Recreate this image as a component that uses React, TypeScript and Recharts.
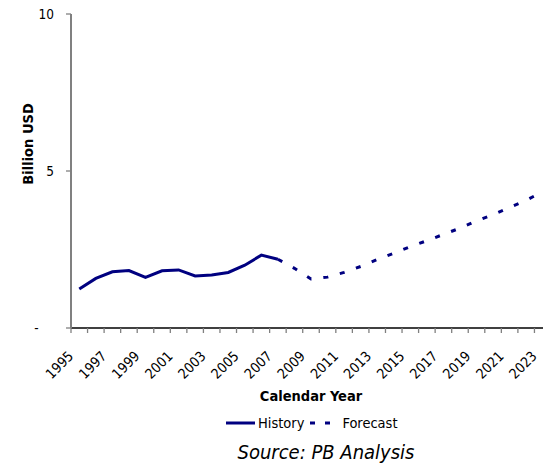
import React from 'react';
import { LineChart, Line, XAxis, YAxis, Label } from 'recharts';

const years = [
  '1995', '1996', '1997', '1998', '1999', '2000', '2001', '2002', '2003', '2004',
  '2005', '2006', '2007', '2008', '2009', '2010', '2011', '2012', '2013', '2014',
  '2015', '2016', '2017', '2018', '2019', '2020', '2021', '2022', '2023',
];

// Billion USD, actuals 1995-2007
const history = [1.24, 1.58, 1.79, 1.83, 1.61, 1.82, 1.85, 1.66, 1.69, 1.77, 2.0, 2.32, 2.19];

// Billion USD, forecast 2007-2023 (starts at the last actual)
const forecast = [2.19, 1.9, 1.56, 1.62, 1.77, 1.96, 2.18, 2.38, 2.59, 2.78, 2.98, 3.18, 3.41, 3.61, 3.84, 4.07, 4.34];

const yTicks = [0, 5, 10];

const seriesNames = { history: 'History', forecast: 'Forecast' };

const FONT = "Tahoma, 'DejaVu Sans Condensed', 'DejaVu Sans', sans-serif";
const NAVY = '#000080';

const data = years.map((year, i) => ({
  year,
  history: i < history.length ? history[i] : null,
  forecast: i >= history.length - 1 ? forecast[i - (history.length - 1)] : null,
}));

const XTick = (props: any) => {
  const { x, y, payload, index, width } = props;
  const band = (width || 480) / years.length;
  const tx = x - 5;
  const ty = y + 29;
  return (
    <g>
      <line x1={x - band / 2} y1={y} x2={x - band / 2} y2={y + 5} stroke="#808080" strokeWidth={1.3} />
      {index % 2 === 0 && (
        <text x={tx} y={ty} transform={`rotate(-45 ${tx} ${ty})`} textAnchor="end" fontSize={14} fontFamily={FONT} fill="#000">
          {payload.value}
        </text>
      )}
    </g>
  );
};

const App: React.FC = () => {
  return (
    <div style={{ position: 'absolute', left: 0, top: 0, width: 543, height: 468, overflow: 'hidden', background: '#fff', fontFamily: FONT }}>
      <LineChart width={551} height={468} data={data} margin={{ top: 14, right: 0, bottom: 0, left: 0 }}>
        <XAxis
          dataKey="year"
          scale="band"
          interval={0}
          tick={<XTick />}
          tickLine={false}
          tickSize={0}
          tickMargin={0}
          height={140}
          axisLine={{ stroke: '#000', strokeWidth: 1.3 }}
        >
          <Label
            content={() => (
              <text x={311} y={401} textAnchor="middle" fontSize={14.5} fontWeight="bold" fontFamily={FONT} fill="#000">
                Calendar Year
              </text>
            )}
          />
        </XAxis>
        <YAxis
          domain={[0, 10]}
          ticks={yTicks}
          width={71}
          tickSize={5}
          tickMargin={12}
          tickFormatter={(v: number) => (v === 0 ? '-\u00a0\u00a0\u00a0\u00a0' : String(v))}
          tick={{ fontSize: 13.5, fontFamily: FONT, fill: '#000' }}
          tickLine={{ stroke: '#808080', strokeWidth: 1.3 }}
          axisLine={{ stroke: '#808080', strokeWidth: 2 }}
        >
          <Label
            content={() => (
              <text x={28} y={144} transform="rotate(-90 28 144)" textAnchor="middle" dominantBaseline="central" fontSize={14.5} fontWeight="bold" fontFamily={FONT} fill="#000">
                Billion USD
              </text>
            )}
          />
        </YAxis>
        <Line dataKey="history" name={seriesNames.history} stroke={NAVY} strokeWidth={3} dot={false} isAnimationActive={false} connectNulls={false} />
        <Line dataKey="forecast" name={seriesNames.forecast} stroke={NAVY} strokeWidth={3} strokeDasharray="5 12" dot={false} isAnimationActive={false} connectNulls={false} />
      </LineChart>

      <div style={{ position: 'absolute', left: 226, top: 415, display: 'flex', alignItems: 'center', fontSize: 14.5, color: '#000', whiteSpace: 'nowrap' }}>
        <svg width={30} height={10}>
          <line x1={0} y1={5} x2={29} y2={5} stroke={NAVY} strokeWidth={3} />
        </svg>
        <span style={{ marginLeft: 2 }}>{seriesNames.history}</span>
        <svg width={30} height={10} style={{ marginLeft: 6 }}>
          <line x1={0} y1={5} x2={22} y2={5} stroke={NAVY} strokeWidth={3} strokeDasharray="5 10" />
        </svg>
        <span style={{ marginLeft: 2 }}>{seriesNames.forecast}</span>
      </div>

      <div style={{ position: 'absolute', left: 0, width: 652, top: 440, textAlign: 'center', fontSize: 20, fontStyle: 'italic', color: '#000', whiteSpace: 'nowrap' }}>
        Source: PB Analysis
      </div>
    </div>
  );
};

export default App;
